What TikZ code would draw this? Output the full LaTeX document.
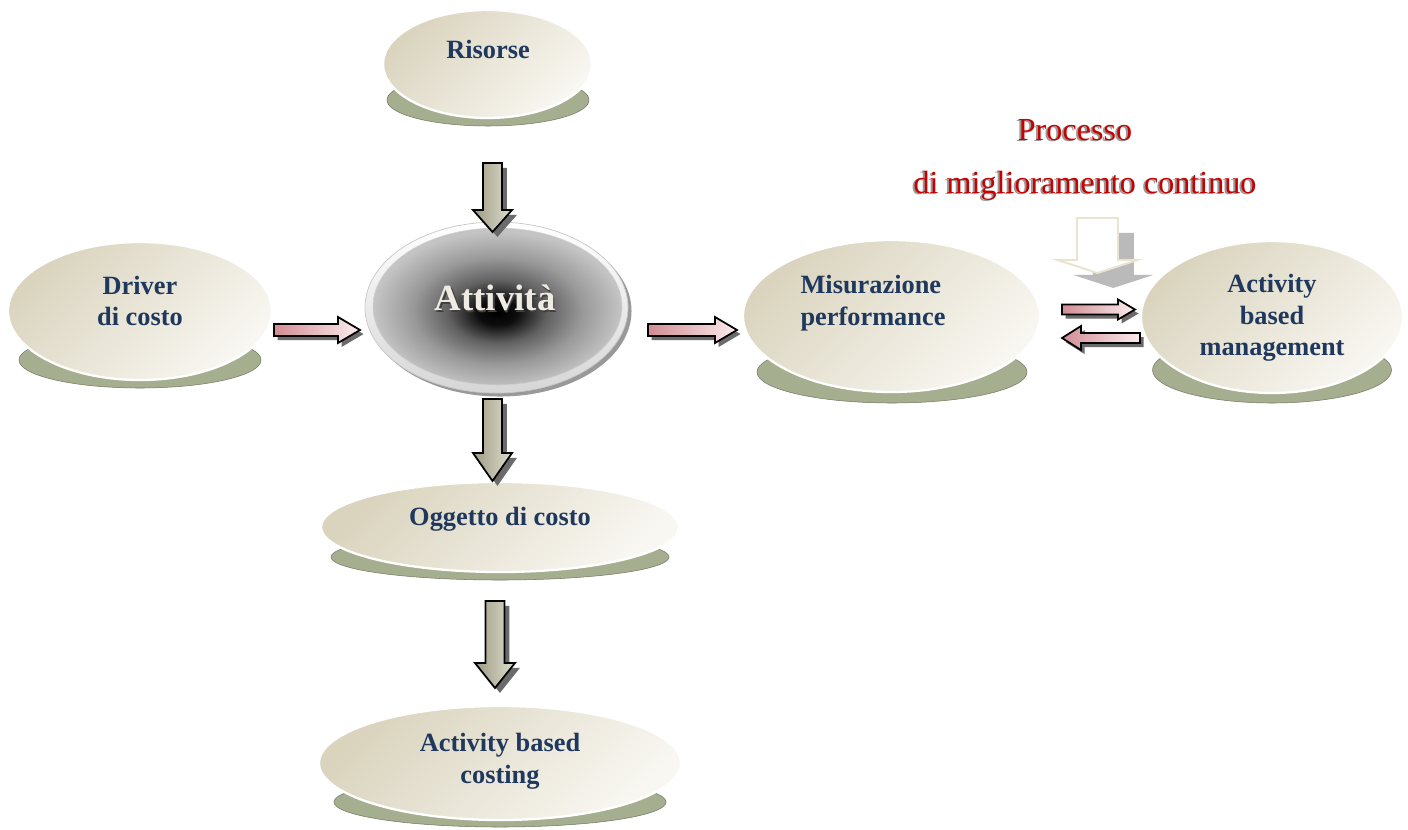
\documentclass[tikz,border=0pt]{standalone}
\usepackage{fontspec}
\setmainfont{Liberation Serif}
\usetikzlibrary{shapes.geometric,shadows,calc}

\definecolor{navy}{RGB}{31,56,93}
\definecolor{tanA}{RGB}{218,212,190}
\definecolor{tanB}{RGB}{249,247,242}
\definecolor{pedestal}{RGB}{166,174,144}
\definecolor{pinkA}{RGB}{210,140,148}
\definecolor{pinkB}{RGB}{251,236,238}
\definecolor{oliveA}{RGB}{158,156,132}
\definecolor{oliveB}{RGB}{222,221,206}
\definecolor{redtxt}{RGB}{200,0,0}
\definecolor{hollowline}{RGB}{232,228,208}

% one pixel of the drawing grid
\def\pxu{0.02cm}

% dark-centred radial fill of the central ellipse
\pgfdeclareradialshading{attshade}{\pgfpoint{0bp}{-2bp}}{%
  color(0bp)=(black); color(4bp)=(black!95); color(10bp)=(black!62);
  color(17bp)=(black!40); color(25bp)=(black!23); color(50bp)=(black!23)}

% vertical block arrow: style, from, tip, shaft half width, head half width, head length
\newcommand\vblock[6]{%
  \path[#1] let \p1=(#2), \p2=(#3) in
    ({\x1-#4*\pxu},\y1) -- ({\x1+#4*\pxu},\y1) -- ({\x1+#4*\pxu},{\y2+#6*\pxu})
    -- ({\x1+#5*\pxu},{\y2+#6*\pxu}) -- (\x2,\y2) -- ({\x1-#5*\pxu},{\y2+#6*\pxu})
    -- ({\x1-#4*\pxu},{\y2+#6*\pxu}) -- cycle;}

% horizontal block arrow: style, from, tip, shaft half height, head half height, signed head length
\newcommand\hblock[6]{%
  \path[#1] let \p1=(#2), \p2=(#3) in
    (\x1,{\y1+#4*\pxu}) -- ({\x2-(#6)*\pxu},{\y1+#4*\pxu}) -- ({\x2-(#6)*\pxu},{\y1+#5*\pxu})
    -- (\x2,\y2) -- ({\x2-(#6)*\pxu},{\y1-#5*\pxu}) -- ({\x2-(#6)*\pxu},{\y1-#4*\pxu})
    -- (\x1,{\y1-#4*\pxu}) -- cycle;}

\tikzset{
  tanell/.style={ellipse, draw=white, line width=1.3pt, top color=tanA, bottom color=tanB,
    shading angle=45, inner sep=0pt},
  pedell/.style={ellipse, fill=pedestal, draw=pedestal!70!black, line width=0.3pt, inner sep=0pt},
  lbl/.style={font=\bfseries\fontsize{15}{18}\selectfont, text=navy, align=center, inner sep=0pt},
  downarr/.style={draw=black, line width=1pt, left color=oliveA, right color=oliveB,
    drop shadow={shadow xshift=2.8pt, shadow yshift=-2.8pt, fill=black!58, opacity=1}},
  pinkarr/.style={draw=black, line width=1pt, left color=pinkA, right color=pinkB,
    drop shadow={shadow xshift=2pt, shadow yshift=-2.3pt, fill=black!58, opacity=1}},
  hollowarr/.style={draw=hollowline, line width=1.1pt, fill=white,
    drop shadow={shadow xshift=9pt, shadow yshift=-8.5pt, fill=black!27, opacity=1}},
  redlbl/.style={font=\rmfamily\fontsize{18.3}{22}\selectfont, inner sep=0pt},
}

\begin{document}
\begin{tikzpicture}[x=0.02cm, y=-0.02cm]
\useasboundingbox[fill=white] (0,0) rectangle (1408,829);

% ---- tan ellipses on their pedestals ----
\node[pedell, minimum width=202*\pxu, minimum height=52*\pxu] (risP) at (488,100) {};
\node[tanell, minimum width=209*\pxu, minimum height=108*\pxu] (ris) at (487.5,64) {};
\node[lbl] (risT) at (488,49) {Risorse};

\node[pedell, minimum width=242*\pxu, minimum height=56*\pxu] (drvP) at (140,360) {};
\node[tanell, minimum width=264*\pxu, minimum height=138*\pxu] (drv) at (140,311) {};
\node[lbl] (drvT) at (140,301) {Driver\\di costo};

\node[pedell, minimum width=270*\pxu, minimum height=62*\pxu] (misP) at (892,372) {};
\node[tanell, minimum width=297*\pxu, minimum height=152*\pxu] (mis) at (891.5,316) {};
\node[lbl, align=left] (misT) at (873,303) {Misurazione\\performance};

\node[pedell, minimum width=239*\pxu, minimum height=66*\pxu] (abmP) at (1272,370) {};
\node[tanell, minimum width=262*\pxu, minimum height=152*\pxu] (abm) at (1272,317) {};
\node[lbl] (abmT) at (1272,318) {Activity\\based\\management};

\node[pedell, minimum width=338*\pxu, minimum height=46*\pxu] (oggP) at (500,557) {};
\node[tanell, minimum width=358*\pxu, minimum height=90*\pxu] (ogg) at (500,527) {};
\node[lbl] (oggT) at (500,519) {Oggetto di costo};

\node[pedell, minimum width=332*\pxu, minimum height=50*\pxu] (abcP) at (500,802) {};
\node[tanell, minimum width=362*\pxu, minimum height=114*\pxu] (abc) at (500,763) {};
\node[lbl] (abcT) at (500,761) {Activity based\\costing};

% ---- central grey ellipse ----
\node[ellipse, inner sep=0pt, top color=white, bottom color=black!16, draw=black!22, line width=0.4pt,
  minimum width=263*\pxu, minimum height=171*\pxu,
  drop shadow={shadow xshift=2pt, shadow yshift=-2pt, fill=black!40, opacity=1}] (attR) at (496.5,307.5) {};
\node[ellipse, inner sep=0pt, shade, shading=attshade, draw=black!18, line width=0.3pt,
  minimum width=249*\pxu, minimum height=157*\pxu] (att) at (497.5,306.5) {};
\node[font=\bfseries\fontsize{21}{25}\selectfont, text=black!75, inner sep=0pt] (attS) at (496.5,299.5) {Attività};
\node[font=\bfseries\fontsize{21}{25}\selectfont, text={rgb,255:red,238;green,236;blue,226}, inner sep=0pt] (attT) at (495,298) {Attività};

% ---- heading of the improvement loop ----
\node[redlbl, text=black!40] (proc1S) at (1073,131) {Processo};
\node[redlbl, text=redtxt] (proc1) at (1075,130) {Processo};
\node[redlbl, text=black!40] (proc2S) at (1083,187) {di miglioramento continuo};
\node[redlbl, text=redtxt] (proc2) at (1085,186) {di miglioramento continuo};

% ---- connector end points ----
\coordinate (a1s) at (492.5,163); \coordinate (a1e) at (492.5,232);
\coordinate (a2s) at (492.5,399); \coordinate (a2e) at (492.5,481);
\coordinate (a3s) at (495,601);   \coordinate (a3e) at (495,688);
\coordinate (p1s) at (274,330);   \coordinate (p1e) at (360,330);
\coordinate (p2s) at (648,330);   \coordinate (p2e) at (737,330);
\coordinate (p3s) at (1062,309.5);\coordinate (p3e) at (1135,309.5);
\coordinate (p4s) at (1140,338);  \coordinate (p4e) at (1062,338);
\coordinate (h1s) at (1097.5,218);\coordinate (h1e) at (1097.5,273);

% ---- block arrows ----
\vblock{downarr}{a1s}{a1e}{9.5}{19.5}{22}
\vblock{downarr}{a2s}{a2e}{9.5}{19.5}{28}
\vblock{downarr}{a3s}{a3e}{9.5}{20}{25}

\hblock{pinkarr}{p1s}{p1e}{6}{13}{22}
\hblock{pinkarr}{p2s}{p2e}{6}{13}{22}
\hblock{pinkarr}{p3s}{p3e}{5}{10}{17}
\hblock{pinkarr}{p4s}{p4e}{5}{12}{-19}

\vblock{hollowarr}{h1s}{h1e}{20.5}{40}{13}
\end{tikzpicture}
\end{document}
